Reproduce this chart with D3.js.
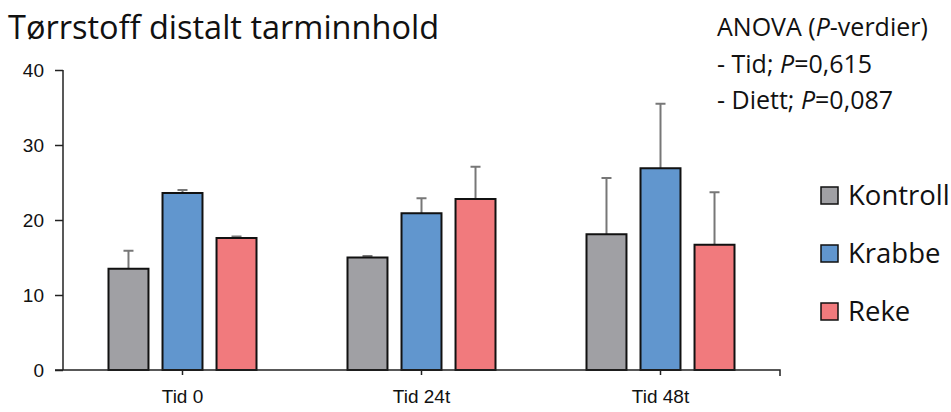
<!DOCTYPE html>
<html>
<head>
<meta charset="utf-8">
<script src="https://cdn.jsdelivr.net/npm/d3@7"></script>
<style>
  body { margin: 0; background: #fff; }
  svg { display: block; font-family: "Open Sans", "Noto Sans", sans-serif; }
</style>
</head>
<body>
<svg id="chart" width="951" height="412"></svg>
<script>
const categories = ["Tid 0", "Tid 24t", "Tid 48t"];
const seriesNames = ["Kontroll", "Krabbe", "Reke"];
const kontroll = [13.5, 15.0, 18.1];
const krabbe = [23.6, 20.9, 26.9];
const reke = [17.6, 22.8, 16.7];
const kontrollErr = [2.4, 0.2, 7.5];
const krabbeErr = [0.4, 2.0, 8.6];
const rekeErr = [0.2, 4.3, 7.0];
const yTicks = [0, 10, 20, 30, 40];

const colors = { Kontroll: "#A0A0A4", Krabbe: "#6196CE", Reke: "#F17A7D" };

const values = { Kontroll: kontroll, Krabbe: krabbe, Reke: reke };
const errors = { Kontroll: kontrollErr, Krabbe: krabbeErr, Reke: rekeErr };

const svg = d3.select("#chart");
const margin = { left: 63, right: 171, top: 70, bottom: 42 };
const width = 951 - margin.left - margin.right;
const height = 412 - margin.top - margin.bottom;

const g = svg.append("g").attr("transform", `translate(${margin.left},${margin.top})`);

const x = d3.scaleBand().domain(categories).range([0, width]);
const xs = d3.scaleBand().domain(seriesNames).range([-74, 74]).paddingInner(0.26);
const y = d3.scaleLinear().domain([0, 40]).range([height, 0]);

const rows = [];
categories.forEach((c, i) => {
  seriesNames.forEach((s) => {
    rows.push({ cat: c, series: s, value: values[s][i], err: errors[s][i] });
  });
});

const cx = (d) => x(d.cat) + x.bandwidth() / 2 + xs(d.series) + xs.bandwidth() / 2;

// error bars (upper only)
g.selectAll(".err")
  .data(rows)
  .enter()
  .append("line")
  .attr("x1", cx)
  .attr("x2", cx)
  .attr("y1", (d) => y(d.value))
  .attr("y2", (d) => y(d.value + d.err))
  .attr("stroke", "#777")
  .attr("stroke-width", 2);

g.selectAll(".cap")
  .data(rows)
  .enter()
  .append("line")
  .attr("x1", (d) => cx(d) - 5)
  .attr("x2", (d) => cx(d) + 5)
  .attr("y1", (d) => y(d.value + d.err))
  .attr("y2", (d) => y(d.value + d.err))
  .attr("stroke", "#777")
  .attr("stroke-width", 2);

g.selectAll(".bar")
  .data(rows)
  .enter()
  .append("rect")
  .attr("class", "bar")
  .attr("x", (d) => x(d.cat) + x.bandwidth() / 2 + xs(d.series))
  .attr("width", xs.bandwidth())
  .attr("y", (d) => y(d.value))
  .attr("height", (d) => height - y(d.value))
  .attr("fill", (d) => colors[d.series])
  .attr("stroke", "#111")
  .attr("stroke-width", 2);

// y axis
const yAxis = g.append("g")
  .call(d3.axisLeft(y).tickValues(yTicks).tickSize(8).tickPadding(11).tickFormat(d3.format("d")));
yAxis.select(".domain").attr("d", `M0,${y(40)}V${height}`).attr("stroke", "#222").attr("stroke-width", 1.5);
yAxis.selectAll(".tick line").attr("stroke", "#222").attr("stroke-width", 1.5);
yAxis.selectAll("text").attr("font-size", 19).attr("fill", "#111");

// x axis
const xAxis = g.append("g")
  .attr("transform", `translate(0,${height})`)
  .call(d3.axisBottom(x).tickSize(5).tickPadding(15));
xAxis.select(".domain").attr("d", `M-8,0H${width}V6`).attr("stroke", "#222").attr("stroke-width", 1.5).attr("fill", "none");
xAxis.selectAll(".tick line").attr("stroke", "#222").attr("stroke-width", 1.5);
xAxis.selectAll("text").attr("font-size", 19).attr("fill", "#111");

// title
svg.append("text")
  .attr("x", 8)
  .attr("y", 39)
  .attr("font-size", 32.5)
  .attr("fill", "#111")
  .text("Tørrstoff distalt tarminnhold");

// ANOVA annotation
const anova = svg.append("text").attr("font-size", 25).attr("fill", "#111");
const l1 = anova.append("tspan").attr("x", 717).attr("y", 36);
l1.append("tspan").text("ANOVA (");
l1.append("tspan").attr("font-style", "italic").text("P");
l1.append("tspan").text("-verdier)");
const l2 = anova.append("tspan").attr("x", 717).attr("y", 73);
l2.append("tspan").text("- Tid; ");
l2.append("tspan").attr("font-style", "italic").text("P");
l2.append("tspan").text("=0,615");
const l3 = anova.append("tspan").attr("x", 717).attr("y", 109);
l3.append("tspan").text("- Diett; ");
l3.append("tspan").attr("font-style", "italic").text("P");
l3.append("tspan").text("=0,087");

// legend
const legend = svg.append("g").attr("transform", "translate(821,187)");
const item = legend.selectAll(".item")
  .data(seriesNames)
  .enter()
  .append("g")
  .attr("transform", (d, i) => `translate(0,${i * 58})`);
item.append("rect")
  .attr("width", 17)
  .attr("height", 17)
  .attr("fill", (d) => colors[d])
  .attr("stroke", "#111")
  .attr("stroke-width", 1.5);
item.append("text")
  .attr("x", 27)
  .attr("y", 18)
  .attr("font-size", 27.5)
  .attr("fill", "#111")
  .text((d) => d);
</script>
</body>
</html>
